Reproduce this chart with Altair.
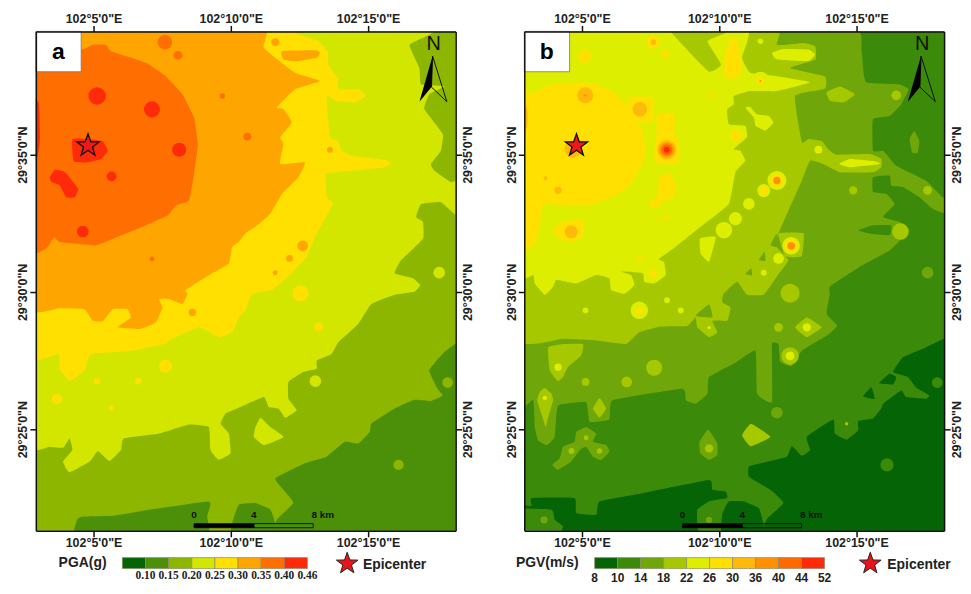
import altair as alt
import pandas as pd

# ---------------- axes ----------------
LON_DOMAIN = [2.9, 18.19]
LAT_DOMAIN = [21.3, 39.49]
LON_TICKS = [5, 10, 15]
LAT_TICKS = [25, 30, 35]

# ---------------- palettes and legend labels ----------------
PGA_COLORS = ["#056405", "#4C900A", "#8DB600", "#D2E600", "#FFE000", "#FFA500", "#FF6E00", "#FF2A0A"]
PGA_LABELS = ["0.10", "0.15", "0.20", "0.25", "0.30", "0.35", "0.40", "0.46"]
PGV_COLORS = ["#056405", "#3C8A0A", "#6FA60A", "#A6C800", "#DDEE00", "#FFE000", "#FFB90A", "#FF9100", "#FF6A00", "#FF2A0A"]
PGV_LABELS = ["8", "10", "14", "18", "22", "26", "30", "36", "40", "44", "52"]

# ---------------- panel a : contour regions, class index -> polygons (arc-minutes) ----------------
A_POLYS = {
    1: [
        [(11.62,23.21),(12.7,23.76),(13.49,24.0),(14.15,24.54),(14.64,24.48),(15.06,24.9),(15.12,25.2),(15.97,25.75),(16.69,26.07),(17.29,26.03),(17.72,26.23),(17.53,26.47),(17.23,27.14),(17.77,27.8),(18.25,28.16),(18.5,28.16),(18.5,20.9),(11.68,20.9),(11.68,21.7),(12.28,22.31),(11.92,22.79)],
        [(4.4,21.7),(4.61,21.82),(5.7,21.85),(7.03,22.07),(9.14,22.37),(9.26,22.25),(9.14,21.82),(9.1,20.9),(4.4,20.9)],
        [(10.0,20.9),(10.05,21.58),(10.29,22.25),(10.89,22.31),(11.44,22.07),(11.62,21.58),(11.56,20.9)],
    ],
    3: [
        [(2.5,24.78),(3.41,24.36),(3.9,24.33),(4.13,24.66),(4.23,24.24),(3.89,23.82),(4.13,23.43),(4.86,23.82),(5.16,24.21),(5.58,23.84),(6.0,24.24),(6.1,24.66),(7.39,24.84),(8.48,25.17),(9.2,25.08),(9.26,24.24),(9.56,23.88),(9.99,24.12),(9.93,24.84),(9.63,25.2),(9.81,25.57),(10.29,25.78),(11.2,26.17),(11.38,25.81),(11.74,25.75),(11.98,25.42),(12.4,25.69),(12.1,26.11),(12.1,26.72),(12.64,27.08),(13.13,27.2),(13.13,27.5),(13.67,27.74),(13.91,28.16),(14.64,28.83),(15.12,29.56),(15.97,29.9),(16.69,30.01),(16.9,30.25),(16.63,30.5),(15.97,30.68),(16.21,31.16),(17.0,31.94),(17.0,32.55),(16.75,32.73),(16.93,33.2),(17.65,33.27),(18.14,32.85),(18.5,32.7),(18.5,34.1),(18.02,34.0),(17.41,34.42),(17.29,34.66),(17.65,35.14),(17.72,35.75),(17.05,36.66),(17.23,37.2),(17.8,37.5),(16.93,37.56),(16.87,38.16),(16.51,39.0),(17.23,39.37),(17.5,39.8),(2.5,39.8)],
        [(11.08,25.42),(10.9,25.08),(10.84,24.72),(11.2,24.42),(11.92,24.72),(11.44,25.08)],
    ],
    4: [
        [(2.5,27.84),(3.71,27.74),(3.77,27.2),(4.13,26.75),(4.67,27.14),(4.91,27.74),(6.43,27.86),(7.57,28.1),(7.76,28.23),(8.84,28.71),(9.56,28.35),(10.05,28.53),(10.29,29.07),(10.53,29.31),(10.77,29.92),(11.5,30.07),(12.1,30.56),(12.76,31.28),(13.07,32.0),(13.72,33.21),(13.5,33.45),(13.46,34.3),(13.8,34.36),(14.52,34.42),(15.6,34.54),(15.82,34.69),(15.6,34.81),(14.4,34.96),(14.04,35.14),(13.91,35.5),(13.61,35.63),(13.49,37.14),(13.79,36.96),(14.52,36.9),(14.91,37.14),(14.64,37.38),(13.91,37.38),(13.91,37.74),(13.55,38.3),(13.55,38.71),(13.19,39.13),(12.34,39.43),(12.3,39.8),(2.5,39.8)],
    ],
    5: [
        [(2.5,29.56),(3.77,29.41),(4.67,29.37),(4.97,28.95),(5.33,28.93),(5.7,29.37),(6.24,29.37),(6.36,29.07),(5.88,28.71),(6.67,28.65),(7.27,28.89),(7.51,29.43),(7.39,29.74),(7.76,29.74),(8.24,29.56),(8.42,29.92),(8.36,30.07),(9.32,30.68),(9.93,31.04),(10.05,31.64),(10.29,31.82),(10.53,32.13),(10.89,32.37),(11.44,32.85),(11.86,33.57),(12.46,34.18),(12.7,34.72),(11.8,34.66),(11.92,35.39),(11.8,35.63),(12.22,36.17),(11.92,36.66),(11.68,36.72),(12.34,37.38),(13.25,37.68),(12.34,37.98),(11.2,38.89),(11.08,39.8),(2.5,39.8)],
        [(11.86,38.77),(11.92,38.47),(12.4,38.4),(13.13,38.53),(13.25,38.71),(13.07,38.8)],
    ],
    6: [
        [(2.5,31.52),(3.27,31.58),(3.57,32.0),(3.77,31.82),(5.1,31.7),(5.82,31.98),(6.79,32.37),(7.7,32.79),(8.0,33.15),(8.48,33.33),(8.66,34.3),(8.8,35.39),(8.66,36.35),(8.24,37.2),(7.63,37.86),(6.91,38.35),(5.64,38.77),(5.46,39.0),(4.97,39.0),(4.55,38.83),(2.5,38.9)],
    ],
    7: [
        [(4.23,35.57),(4.8,35.57),(5.34,35.48),(5.52,35.14),(5.28,34.84),(4.8,34.72),(4.28,34.76)],
        [(3.41,34.18),(3.6,34.45),(3.96,34.36),(4.44,33.76),(4.32,33.45),(4.01,33.45),(3.77,33.88),(3.47,34.0)],
        [(2.5,37.3),(3.0,36.9),(3.05,35.6),(2.95,34.9),(2.5,34.8)],
    ],
}
A_SPOTS = {
    2: [(16.11,23.7,.21),(17.9,26.7,.22)],
    3: [(17.59,30.7,.24),(13.08,26.75,.24)],
    4: [(5.13,26.75,.13),(6.63,26.75,.14),(3.67,26.1,.22),(5.64,25.77,.1),(7.63,27.3,.27),(13.2,28.73,.18),(12.54,29.95,.33)],
    5: [(11.62,39.1,.17),(13.61,35.18,.12),(12.62,31.68,.22),(12.14,31.22,.14),(11.62,30.7,.1),(8.6,29.25,.15)],
    6: [(10.6,35.66,.16),(7.6,39.1,.3),(8.08,38.62,.18),(9.69,37.14,.11),(7.13,31.2,.1)],
    7: [(5.13,37.14,.36),(7.13,36.65,.33),(8.12,35.18,.29),(4.61,32.2,.24),(5.66,34.21,.2)],
}
A_OVER_POLYS = []
A_OVER_SPOTS = [(5, 8.06, 32.75, .29)]

# ---------------- panel b ----------------
B_POLYS = {
    0: [
        [(11.08,23.64),(11.5,23.76),(12.46,24.0),(12.64,24.39),(13.01,24.03),(13.31,24.24),(13.19,24.72),(14.15,25.35),(14.21,24.84),(14.64,24.62),(15.06,24.96),(15.06,25.3),(15.6,25.39),(15.9,25.75),(15.97,25.93),(16.63,26.41),(16.81,26.17),(17.53,26.11),(17.65,26.23),(17.16,26.53),(16.87,26.9),(16.33,27.08),(16.69,27.62),(17.53,27.98),(18.2,28.3),(18.5,28.3),(18.5,20.9),(11.74,20.9),(11.72,21.7),(12.34,22.31),(11.86,22.79),(11.08,23.27)],
        [(15.82,26.67),(16.2,27.02),(16.45,26.9),(16.33,26.63)],
        [(15.24,26.2),(15.54,26.53),(15.66,26.1)],
        [(3.16,22.49),(4.73,22.49),(4.79,21.95),(5.52,21.88),(5.64,22.37),(7.21,22.67),(9.63,23.15),(9.75,22.79),(10.23,22.73),(10.29,22.49),(9.63,22.37),(9.2,22.07),(9.2,21.46),(9.2,20.9),(4.31,20.9),(4.31,21.46),(4.01,21.7),(3.89,22.07),(2.5,22.13),(2.5,22.3),(3.16,22.2)],
        [(10.1,20.9),(10.11,21.9),(10.35,22.37),(10.89,22.37),(11.44,22.13),(11.6,21.58),(11.6,20.9)],
    ],
    2: [
        [(2.5,26.05),(3.22,26.07),(3.28,25.08),(3.4,24.6),(3.71,24.42),(4.01,24.72),(4.13,25.86),(5.15,25.98),(5.28,25.27),(6.0,25.35),(6.12,26.05),(8.66,26.47),(8.78,26.05),(9.14,25.93),(9.57,26.29),(9.63,26.9),(10.62,27.44),(11.32,27.86),(11.38,26.29),(11.92,25.99),(11.92,28.1),(12.16,28.1),(12.22,27.46),(12.64,27.3),(13.01,27.86),(13.91,28.4),(14.3,28.77),(13.91,29.2),(14.03,29.92),(14.03,30.2),(15.12,30.92),(16.21,31.52),(16.93,32.25),(16.57,32.55),(15.97,32.73),(16.39,33.2),(16.09,33.57),(15.6,33.64),(15.6,34.18),(16.2,34.24),(16.27,33.87),(16.69,33.82),(17.29,33.45),(17.77,33.03),(18.14,32.88),(18.5,32.88),(18.5,33.6),(18.14,33.45),(17.53,34.06),(16.45,34.6),(15.97,35.14),(15.6,35.14),(15.6,36.29),(16.21,36.41),(16.63,36.84),(16.9,37.38),(16.57,37.56),(15.36,37.63),(15.24,38.16),(15.18,38.77),(14.64,39.8),(2.5,39.8)],
        [(17.11,35.85),(17.29,35.5),(17.23,35.08),(17.03,35.08),(16.93,35.57)],
        [(5.15,25.08),(5.52,24.84),(5.4,24.54),(5.88,24.42),(6.0,24.18),(5.7,23.88),(5.4,24.0),(5.15,24.36),(4.92,24.24),(4.61,23.82),(4.13,23.52),(3.92,23.7),(4.19,23.94),(4.31,24.36),(4.73,24.54),(4.79,24.9)],
        [(9.6,24.99),(9.93,24.48),(9.93,24.06),(9.63,23.88),(9.31,24.12),(9.28,24.54)],
    ],
    3: [
        [(2.5,28.44),(4.31,28.29),(5.52,28.23),(6.6,28.1),(7.09,28.53),(7.87,28.74),(8.83,28.76),(9.14,29.07),(9.2,28.71),(9.63,28.35),(9.93,28.53),(9.75,28.95),(10.29,28.95),(10.41,29.43),(10.11,29.62),(10.15,29.92),(10.65,30.37),(11.01,29.9),(11.62,29.9),(12.1,30.56),(12.52,31.16),(12.1,31.64),(12.16,32.13),(12.58,33.09),(13.01,34.06),(13.31,34.78),(13.79,34.66),(14.4,34.36),(15.6,34.36),(15.9,34.54),(15.9,34.84),(15.48,35.02),(14.27,35.0),(13.97,35.2),(13.73,35.5),(13.25,35.57),(13.01,35.45),(12.76,37.14),(13.85,37.4),(13.85,37.85),(12.58,38.16),(13.5,38.47),(13.5,38.95),(13.07,39.07),(12.1,39.0),(11.92,39.8),(2.5,39.8)],
        [(12.16,32.13),(13.07,32.13),(13.0,31.3),(12.4,31.3)],
        [(13.91,37.27),(14.4,37.48),(14.94,37.2),(14.52,36.9),(14.03,36.96)],
        [(3.77,27.98),(4.31,28.1),(5.04,28.1),(4.97,27.68),(4.49,27.26),(4.31,26.9),(4.13,26.75),(3.83,27.14)],
        [(3.37,26.05),(3.46,26.35),(3.65,26.5),(3.89,26.29),(3.95,26.05),(3.77,25.44),(3.68,25.08),(3.56,25.44)],
        [(5.64,26.14),(5.88,25.75),(5.64,25.42),(5.4,25.75)],
        [(12.76,28.71),(13.19,29.07),(13.73,28.71),(13.19,28.35)],
        [(10.83,24.78),(11.16,25.2),(11.86,24.72),(11.14,24.38)],
    ],
    4: [
        [(2.5,30.68),(3.22,30.62),(3.28,30.31),(3.65,29.89),(3.95,30.19),(4.07,30.44),(4.79,30.31),(5.52,30.62),(6.0,30.5),(6.06,30.07),(6.55,29.93),(6.91,30.25),(6.79,30.62),(6.43,30.74),(7.21,30.68),(7.27,30.37),(7.63,30.31),(8.05,30.62),(7.99,31.09),(7.8,31.2),(8.41,31.64),(9.32,32.37),(10.35,33.2),(10.59,34.36),(10.95,34.78),(10.77,35.14),(10.53,35.2),(11.01,35.63),(10.95,36.05),(10.35,36.11),(10.29,36.65),(10.53,36.84),(10.53,37.14),(11.13,37.32),(12.1,37.32),(13.31,37.64),(12.1,37.86),(11.13,37.98),(10.83,38.53),(10.89,39.8),(2.5,39.8)],
        [(9.3,31.95),(9.87,32.0),(9.63,31.1),(9.32,31.4)],
        [(11.92,38.71),(12.34,38.85),(13.25,38.83),(13.49,38.65),(13.25,38.41),(12.1,38.47)],
        [(10.95,36.72),(11.13,36.74),(11.38,36.47),(11.8,36.41),(11.98,36.17),(11.68,35.87),(11.32,36.05),(11.26,36.35)],
        [(14.37,34.66),(14.76,34.84),(15.66,34.76),(15.85,34.66),(14.76,34.54)],
    ],
    5: [
        [(2.5,38.0),(3.1,37.2),(3.71,37.5),(4.31,37.62),(5.28,37.62),(6.12,37.32),(6.67,36.71),(7.21,35.87),(7.33,35.14),(7.09,34.42),(6.73,33.88),(6.12,33.45),(5.4,33.19),(4.49,33.12),(3.59,33.21),(3.47,32.37),(3.28,31.76),(3.04,31.58),(2.5,31.5)],
        [(6.67,37.08),(7.57,37.08),(7.57,36.2),(6.67,36.2)],
        [(7.73,36.47),(8.36,36.45),(8.38,35.63),(8.51,35.6),(8.51,34.72),(7.67,34.72),(7.67,35.6),(7.73,35.69)],
        [(7.81,34.18),(8.12,34.32),(8.42,33.94),(8.36,33.45),(7.93,33.33),(7.81,33.09),(7.57,33.03),(7.43,33.27),(7.75,33.45)],
        [(3.95,32.25),(4.25,32.55),(5.06,32.61),(5.04,32.07),(4.73,31.86),(4.25,31.88)],
        [(10.2,38.65),(10.41,39.19),(10.65,39.19),(10.83,38.16),(10.65,37.8),(10.2,37.8)],
    ],
    6: [
        [(2.5,36.9),(3.0,36.7),(3.0,36.0),(2.5,35.5)],
    ],
}
B_SPOTS = {
    1: [(16.11,23.7,.27),(17.94,26.7,.22)],
    2: [(17.59,30.7,.24),(12.1,25.6,.24),(16.45,37.16,.3),(9.63,21.7,.13),(3.62,21.7,.15)],
    3: [(14.88,33.7,.17),(17.59,33.7,.18),(16.6,32.2,.34),(13.61,35.18,.3),(7.63,27.24,.33),(5.13,26.72,.16),(6.63,26.72,.22),(12.16,28.71,.18),(12.58,27.67,.36),(12.58,29.95,.39),(5.15,24.69,.1),(4.62,24.21,.12),(5.64,24.21,.11),(9.63,24.3,.17),(16.45,37.16,.2),(14.64,25.2,.07)],
    4: [(4.13,27.26,.15),(3.65,26.14,.09),(5.13,29.33,.12),(7.09,29.33,.36),(8.1,29.7,.12),(8.6,29.33,.12),(9.63,28.7,.07),(13.19,28.71,.17),(12.58,27.67,.18),(10.17,32.25,.34),(13.61,35.18,.16),(11.5,37.68,.38),(11.5,39.13,.11),(11.62,33.69,.27),(11.08,33.21,.24),(10.59,32.67,.27),(12.1,34.06,.39),(12.62,31.68,.36),(12.16,31.22,.22),(11.62,30.7,.12),(10.62,35.68,.3)],
    5: [(7.09,29.33,.15),(10.62,35.68,.24),(11.5,37.68,.15),(11.62,33.69,.18),(12.1,34.06,.27),(12.62,31.68,.27),(8.08,32.73,.1),(7.6,30.68,.15),(7.09,31.22,.11),(5.1,38.58,.27),(7.6,39.1,.27),(8.05,38.67,.15),(9.75,37.17,.1)],
    6: [(7.11,36.65,.3),(8.09,35.18,.39),(4.61,32.19,.27),(5.12,37.16,.33),(4.67,35.2,.34),(4.13,33.7,.15),(3.67,34.14,.08),(7.6,39.1,.12)],
    7: [(8.09,35.18,.3),(12.1,34.06,.15),(12.62,31.68,.16),(5.12,37.16,.05),(11.5,37.68,.04)],
    8: [(8.09,35.18,.22)],
    9: [(8.09,35.18,.12)],
}
B_OVER_POLYS = [
    (3, [(8.0,39.8),(9.6,38.04),(10.07,38.28),(9.57,39.13),(10.23,39.43),(10.23,39.8)]),
    (2, [(9.14,29.13),(9.63,29.55),(9.75,29.07)]),
    (2, [(11.44,31.16),(11.65,31.46),(11.68,31.13)]),
    (2, [(10.95,30.65),(11.16,30.85),(11.2,30.6)]),
    (2, [(11.86,31.7),(12.1,32.13),(12.16,31.64)]),
    (1, [(15.06,32.25),(15.6,32.43),(16.26,32.43),(16.21,32.07),(15.48,32.13)]),
]
B_OVER_SPOTS = []

# ---------------- shared map furniture ----------------
STAR_AT = (4.8, 35.33)
NORTH_AT = (17.39, 39.03)
ARROW_DARK = [(17.35, 38.59), (16.87, 36.93), (17.31, 37.46)]
ARROW_OPEN = [(17.35, 38.59), (17.87, 36.93), (17.31, 37.46)]
BOX_LON = (2.9, 4.55)
BOX_LAT = (38.02, 39.49)
BOX_LABEL_AT = (3.72, 38.72)
BAR_LON = (8.66, 10.84, 13.0)
BAR_LAT = (21.41, 21.56)
BAR_TEXT = [(8.66, "0"), (10.84, "4"), (13.35, "8 km")]
BAR_TEXT_LAT = 21.88

STAR = "M0,-1L.235,-.324L.951,-.309L.38,.124L.588,.809L0,.4L-.588,.809L-.38,.124L-.951,-.309L-.235,-.324Z"
SANS = "Liberation Sans"
SERIF = "Liberation Serif"
PX_PER_MIN = 27.6

X = alt.X("lon:Q", scale=alt.Scale(domain=LON_DOMAIN, nice=False, zero=False), axis=None, title=None)
Y = alt.Y("lat:Q", scale=alt.Scale(domain=LAT_DOMAIN, nice=False, zero=False), axis=None, title=None)


def poly_layer(entries, palette, closed=True, smooth=True):
    rows = []
    for k, (lev, pts) in enumerate(entries):
        for i, (lon, lat) in enumerate(pts):
            rows.append({"lon": lon, "lat": lat, "poly": k, "i": i, "c": palette[lev]})
    return alt.Chart(pd.DataFrame(rows)).mark_line(
        interpolate="cardinal-closed" if smooth else "linear-closed",
        tension=0.65, clip=True, strokeOpacity=0,
    ).encode(x=X, y=Y, detail="poly:N", order="i:Q", fill=alt.Fill("c:N", scale=None))


def spot_layer(entries, palette):
    rows = [{"lon": lon, "lat": lat, "c": palette[lev], "s": 3.1416 * (r * PX_PER_MIN) ** 2}
            for lev, lon, lat, r in entries if r > 0]
    return alt.Chart(pd.DataFrame(rows)).mark_circle(clip=True, opacity=1, strokeWidth=0).encode(
        x=X, y=Y, color=alt.Color("c:N", scale=None), size=alt.Size("s:Q", scale=None))


def axis_layer(x_orient, y_orient):
    lon_expr = "'102°' + datum.value + '\\'0\"E'"
    lat_expr = "'29°' + datum.value + '\\'0\"N'"
    common = dict(grid=False, tickColor="#111", tickSize=6, tickWidth=1.5, domainColor="#111", domainWidth=1.5,
                  labelFont=SANS, labelFontWeight="bold", labelFontSize=12.5, labelColor="#222",
                  labelPadding=0, title=None, zindex=1)
    return alt.Chart(pd.DataFrame({"lon": [LON_DOMAIN[0]], "lat": [LAT_DOMAIN[0]]})).mark_point(opacity=0).encode(
        x=alt.X("lon:Q", scale=alt.Scale(domain=LON_DOMAIN, nice=False, zero=False),
                axis=alt.Axis(orient=x_orient, values=LON_TICKS, labelExpr=lon_expr, **common)),
        y=alt.Y("lat:Q", scale=alt.Scale(domain=LAT_DOMAIN, nice=False, zero=False),
                axis=alt.Axis(orient=y_orient, values=LAT_TICKS, labelExpr=lat_expr, labelAngle=270, **common)),
    )


def panel(letter, palette, base, polys, spots, over_polys, over_spots):
    layers = [axis_layer("bottom", "left"), axis_layer("top", "right")]
    frame = pd.DataFrame({"lon": [LON_DOMAIN[0]], "lon2": [LON_DOMAIN[1]], "lat": [LAT_DOMAIN[0]], "lat2": [LAT_DOMAIN[1]]})
    layers.append(alt.Chart(frame).mark_rect(color=palette[base]).encode(x=X, x2="lon2:Q", y=Y, y2="lat2:Q"))
    for lev in range(len(palette)):
        if lev in polys:
            layers.append(poly_layer([(lev, p) for p in polys[lev]], palette))
        if lev in spots:
            layers.append(spot_layer([(lev, *s) for s in spots[lev]], palette))
    if over_polys:
        layers.append(poly_layer(over_polys, palette))
    if over_spots:
        layers.append(spot_layer(over_spots, palette))
    # scale bar
    bar = pd.DataFrame({"lon": [BAR_LON[0], BAR_LON[1]], "lon2": [BAR_LON[1], BAR_LON[2]],
                        "lat": [BAR_LAT[0]] * 2, "lat2": [BAR_LAT[1]] * 2, "f": ["#000000", "none"]})
    layers.append(alt.Chart(bar).mark_rect(stroke="#000", strokeWidth=0.8).encode(
        x=X, x2="lon2:Q", y=Y, y2="lat2:Q", fill=alt.Fill("f:N", scale=None)))
    bt = pd.DataFrame({"lon": [b[0] for b in BAR_TEXT], "t": [b[1] for b in BAR_TEXT], "lat": BAR_TEXT_LAT})
    layers.append(alt.Chart(bt).mark_text(font=SANS, fontWeight="bold", fontSize=10, color="#111").encode(x=X, y=Y, text="t:N"))
    # north arrow
    layers.append(poly_layer([(0, ARROW_OPEN)], ["none"], smooth=False).mark_line(
        interpolate="linear-closed", stroke="#111", strokeWidth=1, clip=True))
    layers.append(poly_layer([(0, ARROW_DARK)], ["#000000"], smooth=False))
    north = pd.DataFrame({"lon": [NORTH_AT[0]], "lat": [NORTH_AT[1]], "t": ["N"]})
    layers.append(alt.Chart(north).mark_text(font=SANS, fontSize=20, color="#111").encode(x=X, y=Y, text="t:N"))
    # letter box
    box = pd.DataFrame({"lon": [BOX_LON[0]], "lon2": [BOX_LON[1]], "lat": [BOX_LAT[0]], "lat2": [BOX_LAT[1]]})
    layers.append(alt.Chart(box).mark_rect(fill="white", stroke="#777", strokeWidth=0.8).encode(x=X, x2="lon2:Q", y=Y, y2="lat2:Q"))
    lab = pd.DataFrame({"lon": [BOX_LABEL_AT[0]], "lat": [BOX_LABEL_AT[1]], "t": [letter]})
    layers.append(alt.Chart(lab).mark_text(font=SANS, fontWeight="bold", fontSize=23, color="#000").encode(x=X, y=Y, text="t:N"))
    # epicentre star
    st = pd.DataFrame({"lon": [STAR_AT[0]], "lat": [STAR_AT[1]]})
    layers.append(alt.Chart(st).mark_point(shape=STAR, filled=True, fill="#F01818", stroke="#111", strokeWidth=1.3,
                                           size=560, opacity=1).encode(x=X, y=Y))
    return alt.layer(*layers).resolve_axis(x="independent", y="independent").properties(width=422, height=502)


def legend(title, colors, labels, label_font, label_size, x_dom, y0, title_x, star_x, text_x, label_y):
    lx = alt.X("x:Q", scale=alt.Scale(domain=x_dom, nice=False, zero=False), axis=None, title=None)
    ly = alt.Y("y:Q", scale=alt.Scale(domain=[-1.18, 1.36], nice=False, zero=False), axis=None, title=None)
    sw = pd.DataFrame({"x": list(range(len(colors))), "x2": [i + 1 for i in range(len(colors))],
                       "y": [y0] * len(colors), "y2": [y0 + 1] * len(colors), "c": colors})
    a = alt.Chart(sw).mark_rect(stroke="#8a8a6a", strokeWidth=0.7).encode(x=lx, x2="x2:Q", y=ly, y2="y2:Q", fill=alt.Fill("c:N", scale=None))
    first = 1 if len(labels) == len(colors) else 0
    tl = pd.DataFrame({"x": [first + i for i in range(len(labels))], "y": [label_y] * len(labels), "t": labels})
    b = alt.Chart(tl).mark_text(font=label_font, fontWeight="bold", fontSize=label_size, color="#222").encode(x=lx, y=ly, text="t:N")
    tt = pd.DataFrame({"x": [title_x], "y": [y0 + 0.5], "t": [title]})
    c = alt.Chart(tt).mark_text(font=SANS, fontWeight="bold", fontSize=14, color="#222").encode(x=lx, y=ly, text="t:N")
    s = pd.DataFrame({"x": [star_x], "y": [y0 + 0.45]})
    d = alt.Chart(s).mark_point(shape=STAR, filled=True, fill="#E8141C", stroke="#222", strokeWidth=1, size=520, opacity=1).encode(x=lx, y=ly)
    e_ = pd.DataFrame({"x": [text_x], "y": [y0 + 0.35], "t": ["Epicenter"]})
    e = alt.Chart(e_).mark_text(font=SANS, fontWeight="bold", fontSize=14, color="#222", align="left").encode(x=lx, y=ly, text="t:N")
    return alt.layer(a, b, c, d, e).properties(width=422, height=28)


pa = panel("a", PGA_COLORS, 2, A_POLYS, A_SPOTS, A_OVER_POLYS, A_OVER_SPOTS)
pb = panel("b", PGV_COLORS, 1, B_POLYS, B_SPOTS, B_OVER_POLYS, B_OVER_SPOTS)
la = legend("PGA(g)", PGA_COLORS, PGA_LABELS, SERIF, 11.5, [-3.74, 14.41], 0.0, -1.72, 9.72, 10.4, -0.72)
lb = legend("PGV(m/s)", PGV_COLORS, PGV_LABELS, SANS, 12, [-3.06, 15.2], 0.09, -2.06, 11.99, 12.73, -0.8)

chart = alt.hconcat(
    alt.vconcat(pa, la, spacing=0),
    alt.vconcat(pb, lb, spacing=0),
    spacing=30,
).properties(padding={"left": 8, "top": 3, "right": 0, "bottom": 0}).configure_view(stroke=None).configure_concat(spacing=30)

chart.save("out.html", embed_options={"renderer": "svg", "actions": False})
